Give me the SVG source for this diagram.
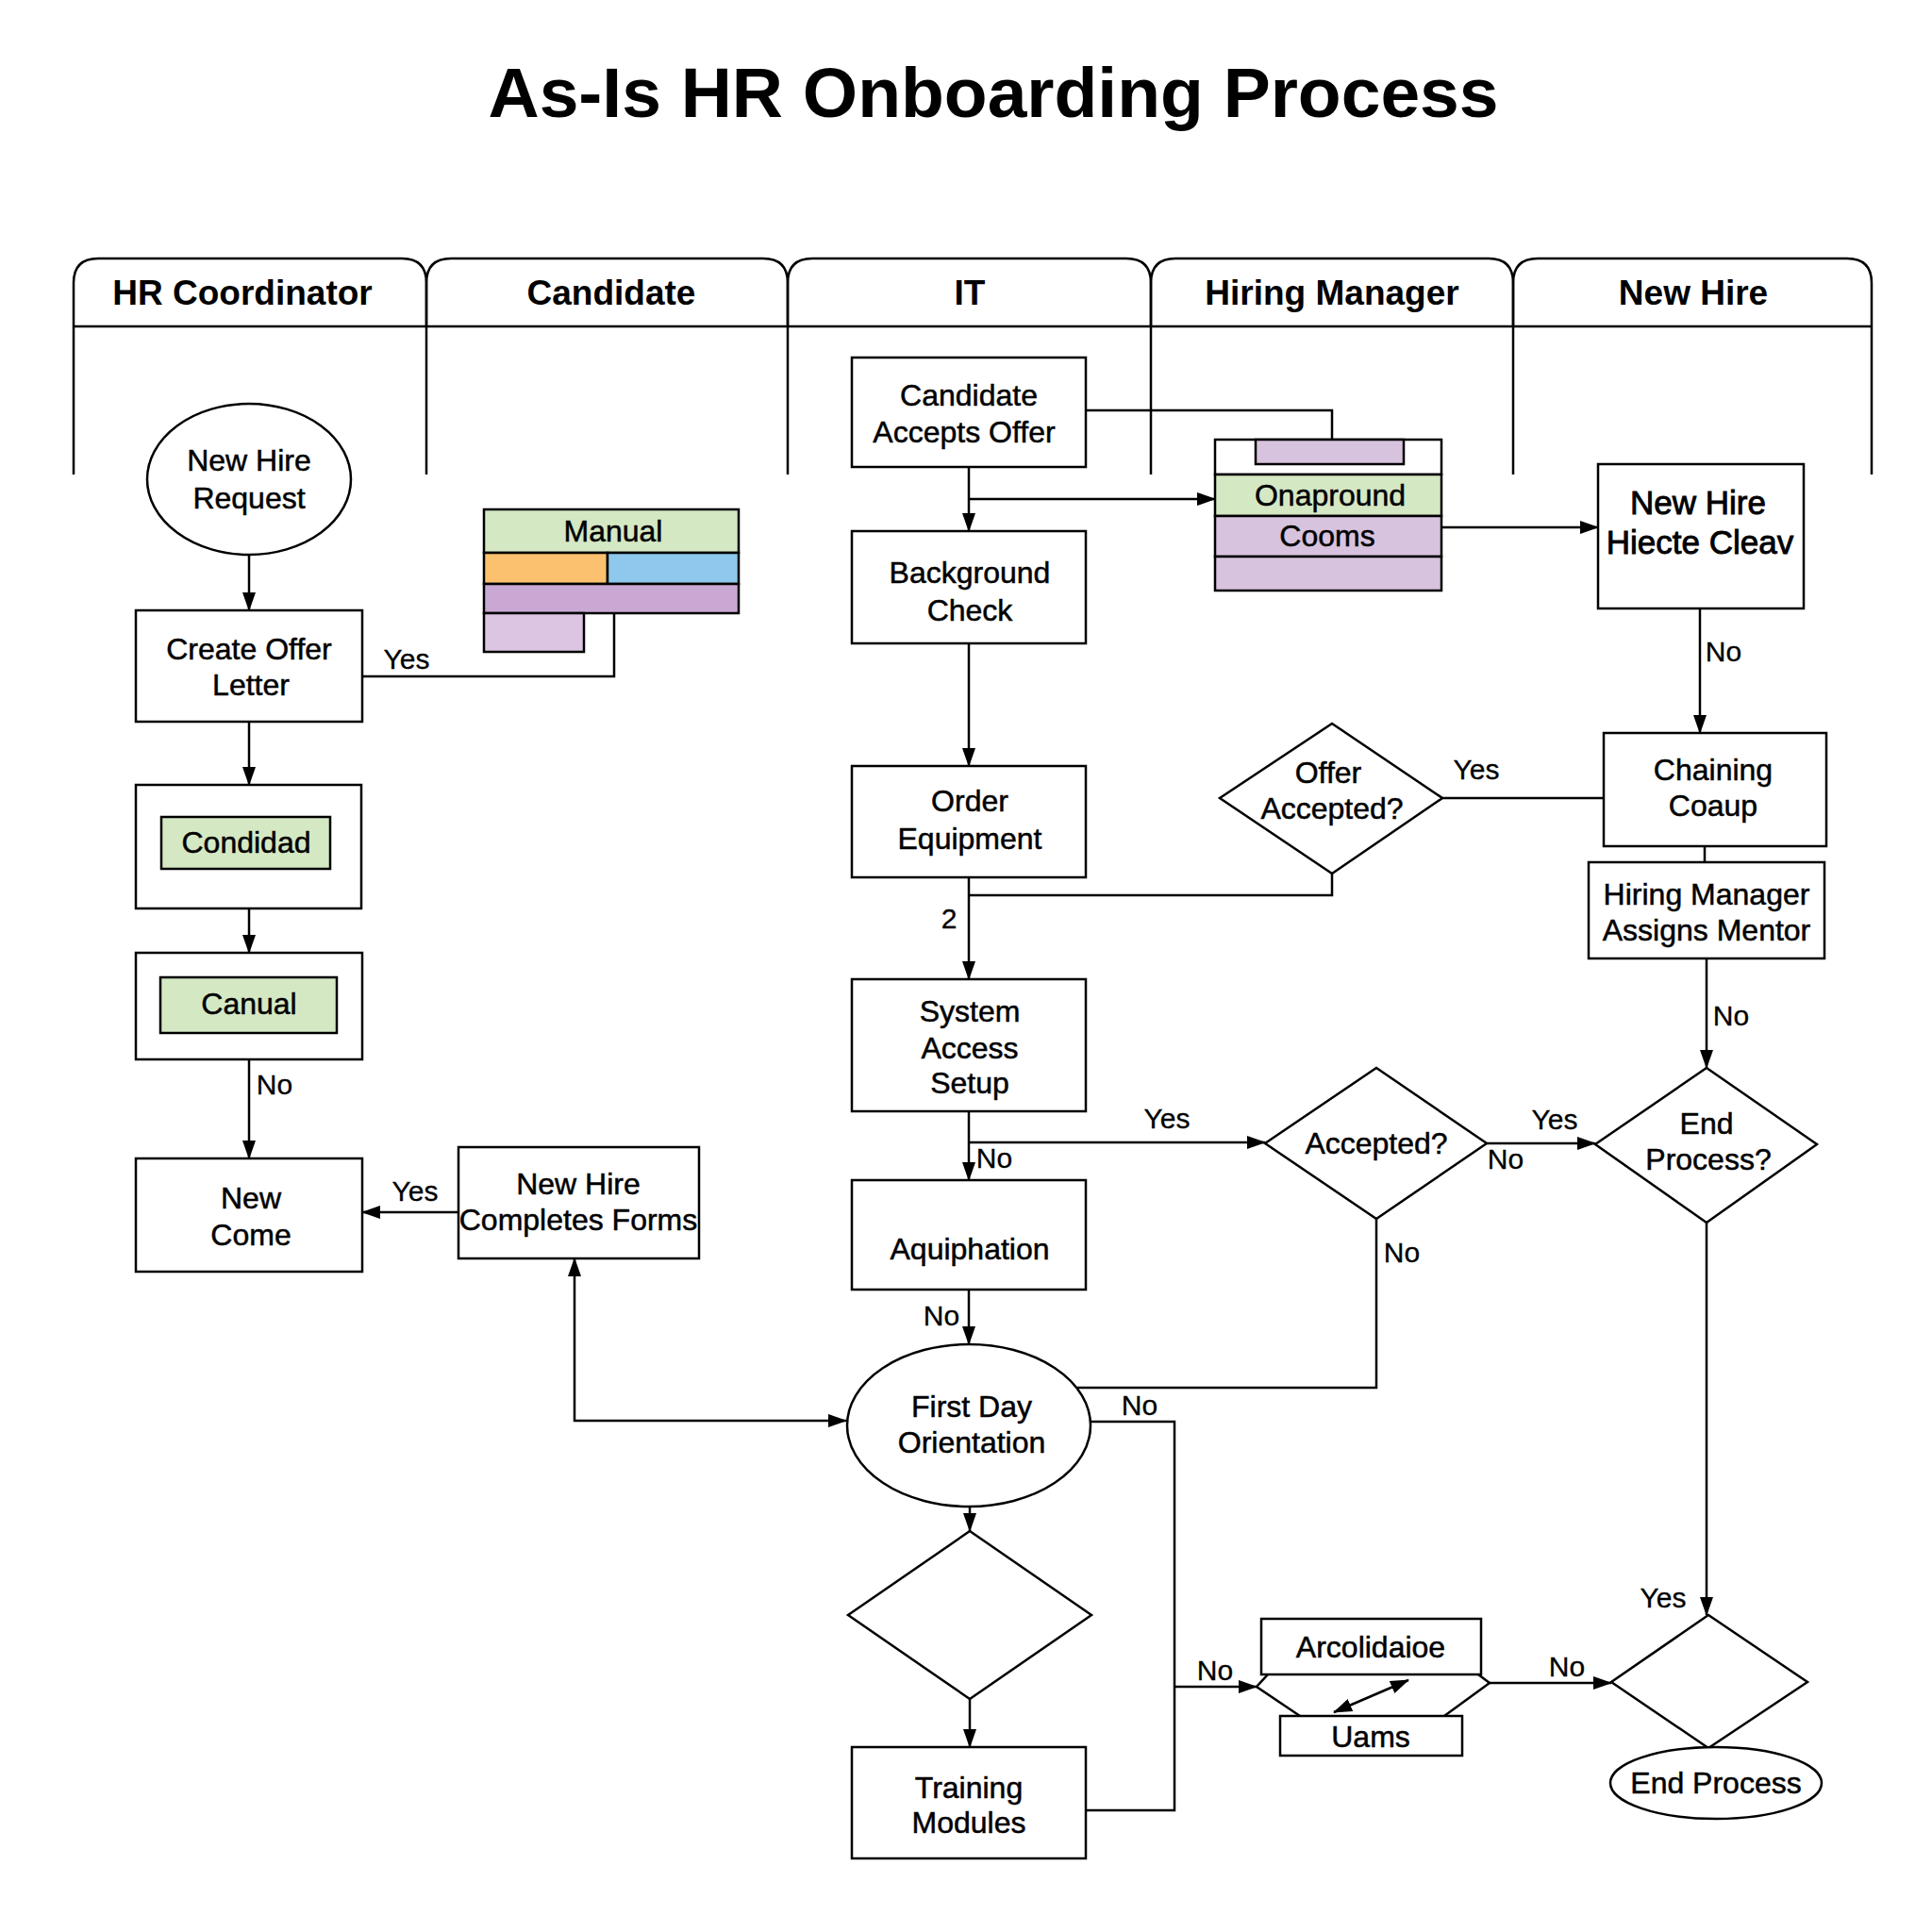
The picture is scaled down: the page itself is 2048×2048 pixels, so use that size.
<svg xmlns="http://www.w3.org/2000/svg" width="2048" height="2048" viewBox="0 0 2048 2048">
<style>
.t{font-family:"Liberation Sans",Arial,sans-serif;font-size:32px;fill:#000;text-anchor:middle;stroke:#000;stroke-width:0.5}
.h{font-family:"Liberation Sans",Arial,sans-serif;font-size:37px;font-weight:bold;fill:#000;text-anchor:middle}
.l{font-family:"Liberation Sans",Arial,sans-serif;font-size:30px;fill:#000;text-anchor:middle;stroke:#000;stroke-width:0.3}
.s{fill:#fff;stroke:#000;stroke-width:2.5}
.c{fill:none;stroke:#000;stroke-width:2.5}
.a{marker-end:url(#ah)}
.b{marker-start:url(#ah);marker-end:url(#ah)}
</style>
<defs>
<marker id="ah" viewBox="0 0 20 14" refX="19" refY="7" markerWidth="20" markerHeight="14" markerUnits="userSpaceOnUse" orient="auto-start-reverse">
<path d="M0,0 L20,7 L0,14 Z" fill="#000"/>
</marker>
</defs>
<rect width="2048" height="2048" fill="#fff"/>
<text x="1053" y="124" font-family="Liberation Sans, Arial, sans-serif" font-size="75" font-weight="bold" text-anchor="middle">As-Is HR Onboarding Process</text>

<g id="lanes" fill="none" stroke="#000" stroke-width="2.5">
<path d="M78,503 V300 Q78,274 104,274 H426 Q452,274 452,300 V503"/>
<path d="M452,346 V300 Q452,274 478,274 H809 Q835,274 835,300 V503"/>
<path d="M835,346 V300 Q835,274 861,274 H1194 Q1220,274 1220,300 V503"/>
<path d="M1220,346 V300 Q1220,274 1246,274 H1578 Q1604,274 1604,300 V503"/>
<path d="M1604,346 V300 Q1604,274 1630,274 H1958 Q1984,274 1984,300 V503"/>
<path d="M78,346 H1984"/>
</g>
<g id="lane-labels">
<text class="h" x="257" y="323">HR Coordinator</text>
<text class="h" x="648" y="323">Candidate</text>
<text class="h" x="1028" y="323">IT</text>
<text class="h" x="1412" y="323">Hiring Manager</text>
<text class="h" x="1795" y="323">New Hire</text>
</g>

<g id="connectors" class="c">
<path class="a" d="M264,588 V647"/>
<path class="a" d="M264,765 V832"/>
<path class="a" d="M264,963 V1010"/>
<path class="a" d="M264,1123 V1228"/>
<path class="a" d="M486,1285 H384"/>
<path d="M384,717 H651 V650"/>
<path class="b" d="M609,1334 V1506 H897"/>
<path class="a" d="M1027,495 V563"/>
<path class="a" d="M1027,529 H1288"/>
<path d="M1151,435 H1412 V466"/>
<path class="a" d="M1528,559 H1694"/>
<path class="a" d="M1027,682 V812"/>
<path class="a" d="M1027,930 V1038"/>
<path d="M1412,926 V949 H1027"/>
<path d="M1529,846 H1700"/>
<path class="a" d="M1802,645 V777"/>
<path d="M1807,897 V914"/>
<path class="a" d="M1809,1016 V1132"/>
<path class="a" d="M1027,1178 V1251"/>
<path class="a" d="M1027,1211 H1341"/>
<path class="a" d="M1576,1212 H1691"/>
<path d="M1459,1292 V1471 H1142"/>
<path class="a" d="M1027,1367 V1425"/>
<path d="M1156,1507 H1245 V1919 H1151"/>
<path class="a" d="M1245,1788 H1332"/>
<path class="a" d="M1579,1784 H1708"/>
<path class="a" d="M1809,1296 V1712"/>
<path class="a" d="M1028,1597 V1623"/>
<path class="a" d="M1028,1801 V1852"/>
<path class="b" d="M1414,1815 L1493,1781"/>
</g>

<g id="labels">
<text class="l" x="431" y="709">Yes</text>
<text class="l" x="291" y="1160">No</text>
<text class="l" x="440" y="1273">Yes</text>
<text class="l" x="1006" y="984">2</text>
<text class="l" x="1237" y="1196">Yes</text>
<text class="l" x="1054" y="1238">No</text>
<text class="l" x="998" y="1405">No</text>
<text class="l" x="1486" y="1338">No</text>
<text class="l" x="1208" y="1500">No</text>
<text class="l" x="1648" y="1197">Yes</text>
<text class="l" x="1596" y="1239">No</text>
<text class="l" x="1835" y="1087">No</text>
<text class="l" x="1827" y="701">No</text>
<text class="l" x="1565" y="826">Yes</text>
<text class="l" x="1288" y="1781">No</text>
<text class="l" x="1661" y="1777">No</text>
<text class="l" x="1763" y="1704">Yes</text>
</g>

<g id="new-hire-request">
<ellipse class="s" cx="264" cy="508" rx="108" ry="80"/>
<text class="t" x="264" y="499">New Hire</text>
<text class="t" x="264" y="539">Request</text>
</g>
<g id="create-offer-letter">
<rect class="s" x="144" y="647" width="240" height="118"/>
<text class="t" x="264" y="699">Create Offer</text>
<text class="t" x="266" y="737">Letter</text>
</g>
<g id="condidad">
<rect class="s" x="144" y="832" width="239" height="131"/>
<rect x="171" y="866" width="179" height="55" fill="#d5e8c4" stroke="#000" stroke-width="2.5"/>
<text class="t" x="261" y="904">Condidad</text>
</g>
<g id="canual">
<rect class="s" x="144" y="1010" width="240" height="113"/>
<rect x="170" y="1036" width="187" height="59" fill="#d5e8c4" stroke="#000" stroke-width="2.5"/>
<text class="t" x="264" y="1075">Canual</text>
</g>
<g id="new-come">
<rect class="s" x="144" y="1228" width="240" height="120"/>
<text class="t" x="266" y="1281">New</text>
<text class="t" x="266" y="1320">Come</text>
</g>
<g id="new-hire-completes-forms">
<rect class="s" x="486" y="1216" width="255" height="118"/>
<text class="t" x="613" y="1266">New Hire</text>
<text class="t" x="613" y="1304">Completes Forms</text>
</g>
<g id="manual" stroke="#000" stroke-width="2.5">
<rect x="513" y="540" width="270" height="46" fill="#d5e8c4"/>
<rect x="513" y="586" width="131" height="33" fill="#fbc16f"/>
<rect x="644" y="586" width="139" height="33" fill="#8ec8ec"/>
<rect x="513" y="619" width="270" height="31" fill="#c9a9d3"/>
<rect x="513" y="650" width="106" height="41" fill="#dcc5e2"/>
<text class="t" x="650" y="574">Manual</text>
</g>
<g id="candidate-accepts-offer">
<rect class="s" x="903" y="379" width="248" height="116"/>
<text class="t" x="1027" y="430">Candidate</text>
<text class="t" x="1022" y="469">Accepts Offer</text>
</g>
<g id="background-check">
<rect class="s" x="903" y="563" width="248" height="119"/>
<text class="t" x="1028" y="618">Background</text>
<text class="t" x="1028" y="658">Check</text>
</g>
<g id="order-equipment">
<rect class="s" x="903" y="812" width="248" height="118"/>
<text class="t" x="1028" y="860">Order</text>
<text class="t" x="1028" y="900">Equipment</text>
</g>
<g id="system-access-setup">
<rect class="s" x="903" y="1038" width="248" height="140"/>
<text class="t" x="1028" y="1083">System</text>
<text class="t" x="1028" y="1122">Access</text>
<text class="t" x="1028" y="1159">Setup</text>
</g>
<g id="aquiphation">
<rect class="s" x="903" y="1251" width="248" height="116"/>
<text class="t" x="1028" y="1335">Aquiphation</text>
</g>
<g id="first-day-orientation">
<ellipse class="s" cx="1027" cy="1511" rx="129" ry="86"/>
<text class="t" x="1030" y="1502">First Day</text>
<text class="t" x="1030" y="1540">Orientation</text>
</g>
<g id="empty-decision">
<path class="s" d="M1028,1623 L1157,1712 L1028,1801 L899,1712 Z"/>
</g>
<g id="training-modules">
<rect class="s" x="903" y="1852" width="248" height="118"/>
<text class="t" x="1027" y="1906">Training</text>
<text class="t" x="1027" y="1943">Modules</text>
</g>
<g id="onapround" stroke="#000" stroke-width="2.5">
<rect x="1288" y="466" width="240" height="37" fill="#fff"/>
<rect x="1331" y="466" width="157" height="26" fill="#d8c3df"/>
<rect x="1288" y="503" width="240" height="44" fill="#d5e8c4"/>
<rect x="1288" y="547" width="240" height="43" fill="#d8c3df"/>
<rect x="1288" y="590" width="240" height="36" fill="#d8c3df"/>
<text class="t" x="1410" y="536">Onapround</text>
<text class="t" x="1407" y="579">Cooms</text>
</g>
<g id="new-hire-hiecte-cleav">
<rect class="s" x="1694" y="492" width="218" height="153"/>
<text class="t" x="1800" y="545" style="font-size:35px;stroke-width:0.9">New Hire</text>
<text class="t" x="1802" y="587" style="font-size:35px;stroke-width:0.9">Hiecte Cleav</text>
</g>
<g id="offer-accepted">
<path class="s" d="M1412,767 L1529,846 L1412,926 L1293,846 Z"/>
<text class="t" x="1408" y="830">Offer</text>
<text class="t" x="1412" y="868">Accepted?</text>
</g>
<g id="chaining-coaup">
<rect class="s" x="1700" y="777" width="236" height="120"/>
<text class="t" x="1816" y="827">Chaining</text>
<text class="t" x="1816" y="865">Coaup</text>
</g>
<g id="hiring-manager-assigns-mentor">
<rect class="s" x="1684" y="914" width="250" height="102"/>
<text class="t" x="1809" y="959">Hiring Manager</text>
<text class="t" x="1809" y="997">Assigns Mentor</text>
</g>
<g id="accepted">
<path class="s" d="M1459,1132 L1576,1212 L1459,1292 L1341,1212 Z"/>
<text class="t" x="1459" y="1223">Accepted?</text>
</g>
<g id="end-process-decision">
<path class="s" d="M1809,1132 L1926,1213 L1809,1296 L1691,1213 Z"/>
<text class="t" x="1809" y="1202">End</text>
<text class="t" x="1811" y="1240">Process?</text>
</g>
<g id="arcolidaioe">
<path class="c" d="M1344,1775 L1332,1788 L1378,1819 M1531,1819 L1579,1784 L1567,1775"/>
<rect class="s" x="1337" y="1716" width="233" height="59"/>
<rect class="s" x="1357" y="1819" width="193" height="42"/>
<text class="t" x="1453" y="1757">Arcolidaioe</text>
<text class="t" x="1453" y="1852">Uams</text>
</g>
<g id="final-decision">
<path class="s" d="M1811,1712 L1916,1783 L1811,1853 L1708,1783 Z"/>
</g>
<g id="end-process">
<ellipse class="s" cx="1819" cy="1890" rx="112" ry="38"/>
<text class="t" x="1819" y="1901">End Process</text>
</g>
</svg>
